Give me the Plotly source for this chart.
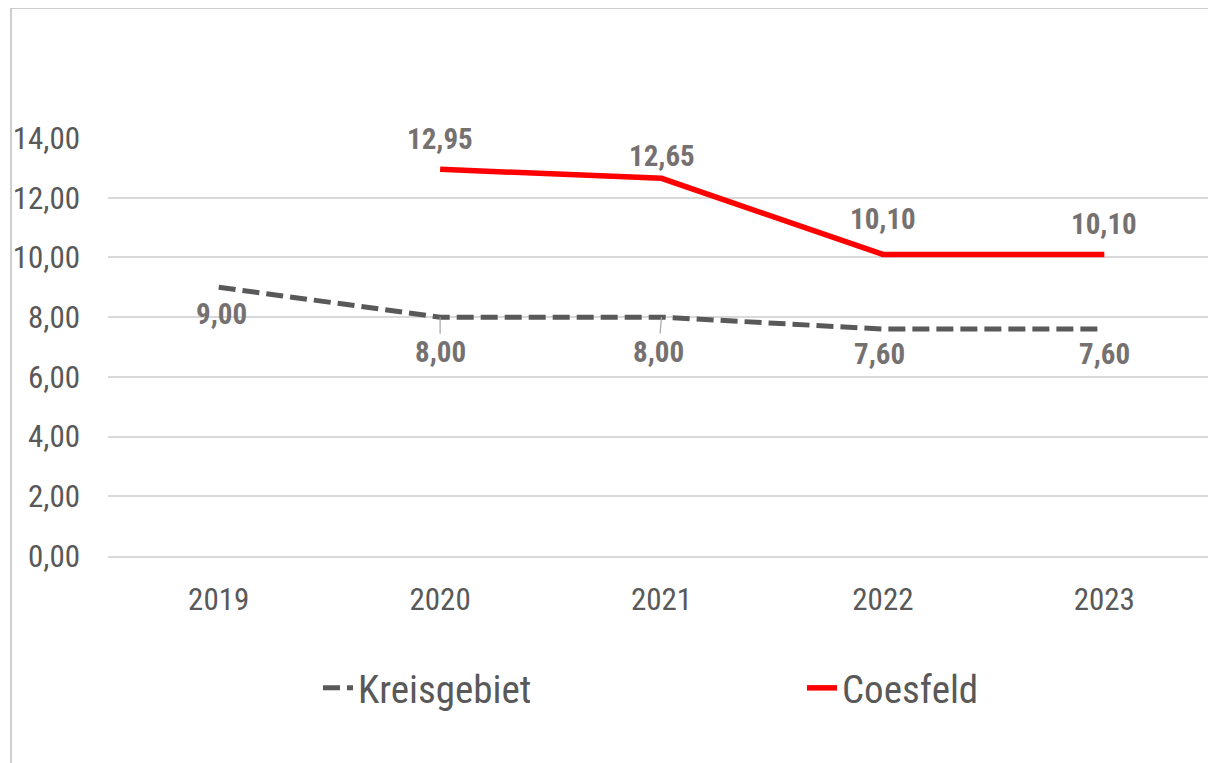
import plotly.graph_objects as go

# ---- data ----
years = ["2019", "2020", "2021", "2022", "2023"]
kreisgebiet = [9.00, 8.00, 8.00, 7.60, 7.60]
coesfeld = [None, 12.95, 12.65, 10.10, 10.10]
y_ticks = [0, 2, 4, 6, 8, 10, 12, 14]

# ---- layout constants (pixels) ----
# the page body has an 8px margin, so the figure starts at screen (8, 8)
OFF = 8
W, H = 1216 - OFF, 763 - OFF
ML, MR, MT, MB = 108 - OFF, 1, 138 - OFF, 207
PW, PH = W - ML - MR, H - MT - MB

def px_x(sx):
    """screen x -> paper x"""
    return (sx - OFF - ML) / PW

def px_y(sy):
    """screen y -> paper y"""
    return (H - MB - (sy - OFF)) / PH

FONT = ("Roboto Condensed, Noto Sans Condensed, Liberation Sans Narrow, "
        "Arial Narrow, DejaVu Sans Condensed, sans-serif")
TICK_COLOR = "#595959"
LABEL_COLOR = "#767171"

def fmt(v):
    return f"{v:.2f}".replace(".", ",")

fig = go.Figure()
fig.add_trace(go.Scatter(
    x=years, y=kreisgebiet, mode="lines", name="Kreisgebiet",
    line=dict(color="#595959", width=5, dash="17px,7px"),
    legend="legend",
))
fig.add_trace(go.Scatter(
    x=years, y=coesfeld, mode="lines", name="Coesfeld",
    line=dict(color="#FF0000", width=5.5),
    legend="legend2",
))

# data label offsets (pixels): style only
k_off = [(3, 27), (0, 35), (-3, 35), (-3, 25), (0, 25)]
k_leader = [False, True, True, False, False]
c_off = [None, (0, -30), (0, -22), (0, -35), (0, -30)]

LABEL_FONT = dict(family=FONT, size=29, color=LABEL_COLOR, weight="bold")
annotations = []
for i, v in enumerate(kreisgebiet):
    dx, dy = k_off[i]
    if k_leader[i]:
        annotations.append(dict(
            x=i, y=v, xref="x", yref="y", text=fmt(v), showarrow=True,
            ax=dx, ay=dy, arrowhead=0, arrowwidth=1.2, arrowcolor="#A6A6A6",
            standoff=0, font=LABEL_FONT,
        ))
    else:
        annotations.append(dict(
            x=i, y=v, xref="x", yref="y", text=fmt(v), showarrow=False,
            xshift=dx, yshift=-dy, font=LABEL_FONT,
        ))
for i, v in enumerate(coesfeld):
    if v is None:
        continue
    dx, dy = c_off[i]
    annotations.append(dict(
        x=i, y=v, xref="x", yref="y", text=fmt(v), showarrow=False,
        xshift=dx, yshift=-dy, font=LABEL_FONT,
    ))

LEG_FONT = dict(family=FONT, size=39, color=TICK_COLOR)
fig.update_layout(
    width=W, height=H,
    margin=dict(l=ML, r=MR, t=MT, b=MB, pad=0, autoexpand=False),
    paper_bgcolor="white", plot_bgcolor="white",
    separators=",.",
    font=dict(family=FONT, color=TICK_COLOR),
    showlegend=True,
    legend=dict(
        orientation="h", x=px_x(318), y=px_y(688),
        xanchor="left", yanchor="middle", font=LEG_FONT,
        bgcolor="rgba(0,0,0,0)",
    ),
    legend2=dict(
        orientation="h", x=px_x(802), y=px_y(688),
        xanchor="left", yanchor="middle", font=LEG_FONT,
        bgcolor="rgba(0,0,0,0)",
    ),
    annotations=annotations,
    shapes=[dict(
        type="rect", xref="paper", yref="paper",
        x0=px_x(11), x1=px_x(1216 + 20), y0=px_y(8), y1=px_y(763 + 20),
        line=dict(color="#BFBFBF", width=1.5),
    )],
    xaxis=dict(
        type="category", categoryorder="array", categoryarray=years,
        range=[-0.5, len(years) - 0.5],
        showgrid=False, zeroline=False, ticks="",
        showline=True, linecolor="#D9D9D9", linewidth=1.5,
        tickfont=dict(family=FONT, size=31, color=TICK_COLOR),
        ticklabelstandoff=15,
    ),
    yaxis=dict(
        range=[0, 14], tickvals=y_ticks, tickformat=".2f",
        showgrid=True, gridcolor="#D9D9D9", gridwidth=1.5,
        zeroline=False, showline=False, ticks="",
        tickfont=dict(family=FONT, size=31, color=TICK_COLOR),
        ticklabelstandoff=27,
    ),
)

fig.write_html("out.html")
